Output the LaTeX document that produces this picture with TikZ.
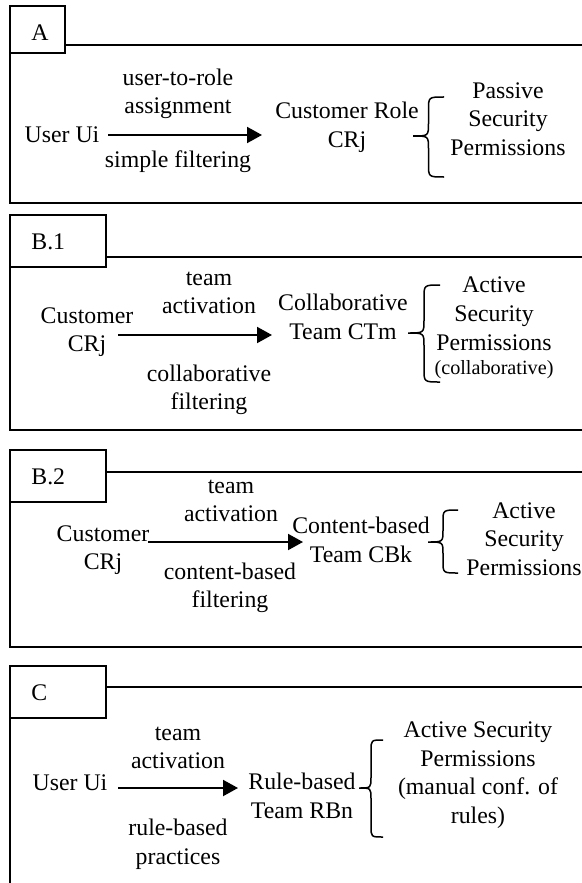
\documentclass[tikz,border=0pt]{standalone}
\usepackage{fontspec}
\setmainfont{Liberation Serif}
\usetikzlibrary{arrows.meta}
\newcommand{\lbrc}[6]{% xl, xr, ytop, ybot, ytip, h
  \draw[brc] (#2,#3) .. controls ({(#1+#2)/2},#3) .. ({(#1+#2)/2},{#3+#6})
    -- ({(#1+#2)/2},{#5-#6}) .. controls ({(#1+#2)/2},#5) .. (#1,#5)
    .. controls ({(#1+#2)/2},#5) .. ({(#1+#2)/2},{#5+#6})
    -- ({(#1+#2)/2},{#4-#6}) .. controls ({(#1+#2)/2},#4) .. (#2,#4);}
\begin{document}
\begin{tikzpicture}[x=0.5pt,y=-0.5pt,
  frame/.style={line width=1pt},
  tabbox/.style={draw, line width=1pt},
  txt/.style={align=center, font=\fontsize{11.9}{14.3}\selectfont, inner sep=0pt},
  arr/.style={line width=1pt, -{Triangle[length=7.5pt,width=8pt]}},
  brc/.style={line width=0.75pt}
]
\fill[white] (0,0) rectangle (582,883);
\useasboundingbox (0,0) rectangle (582,883);

% ---------- Panel A ----------
\draw[tabbox] (10,6) rectangle (65,53);
\draw[frame] (65,45) -- (600,45);
\draw[frame] (10,53) -- (10,203) -- (600,203);
\node[txt, anchor=west] (labA) at (31,33) {A};
\node[txt] (uiA) at (62,135) {User Ui};
\node[txt] (l1A) at (178,94) {user-to-role\\assignment};
\node[txt] (l2A) at (178,162) {simple filtering};
\node[txt] (crA) at (347,127) {Customer Role\\CRj};
\node[txt] (pA) at (508,119) {Passive\\Security\\Permissions};
\coordinate (asA) at (108,135);
\coordinate (aeA) at (262,135);
\draw[arr] (asA) -- (aeA);
\lbrc{413}{444}{97}{177}{136}{13}

% ---------- Panel B.1 ----------
\draw[tabbox] (10,215) rectangle (106,267);
\draw[frame] (106,257) -- (600,257);
\draw[frame] (10,267) -- (10,430) -- (600,430);
\node[txt, anchor=west] (labB1) at (31,242) {B.1};
\node[txt] (cB1) at (87,332) {Customer\\CRj};
\node[txt] (l1B1) at (209,293) {team\\activation};
\node[txt] (l2B1) at (209,390) {collaborative\\filtering};
\node[txt] (tB1) at (343,317) {Collaborative\\Team CTm};
\node[txt] (pB1) at (494,328) {Active\\Security\\Permissions\\[-2pt]{\fontsize{10.1}{12}\selectfont (collaborative)}};
\coordinate (asB1) at (118,335);
\coordinate (aeB1) at (272,335);
\draw[arr] (asB1) -- (aeB1);
\lbrc{408}{440}{285}{382}{333}{13}

% ---------- Panel B.2 ----------
\draw[tabbox] (10,450) rectangle (106,502);
\draw[frame] (106,472) -- (600,472);
\draw[frame] (10,502) -- (10,647) -- (600,647);
\node[txt, anchor=west] (labB2) at (31,477) {B.2};
\node[txt] (cB2) at (103,550) {Customer\\CRj};
\node[txt] (l1B2) at (231,501) {team\\activation};
\node[txt] (l2B2) at (230,588) {content-based\\filtering};
\node[txt] (tB2) at (361,540) {Content-based\\Team CBk};
\node[txt] (pB2) at (524,539) {Active\\Security\\Permissions};
\coordinate (asB2) at (148,542);
\coordinate (aeB2) at (303,542);
\draw[arr] (asB2) -- (aeB2);
\lbrc{428}{458}{510}{573}{542}{12}

% ---------- Panel C ----------
\draw[tabbox] (10,666) rectangle (106,718);
\draw[frame] (106,687) -- (600,687);
\draw[frame] (10,718) -- (10,890);
\node[txt, anchor=west] (labC) at (31,693) {C};
\node[txt] (uiC) at (70,783) {User Ui};
\node[txt] (l1C) at (178,748) {team\\activation};
\node[txt] (l2C) at (178,844) {rule-based\\practices};
\node[txt] (tC) at (302,796) {Rule-based\\Team RBn};
\node[txt] (pC) at (478,775) {Active Security\\Permissions\\(manual conf. of\\rules)};
\coordinate (asC) at (118,788);
\coordinate (aeC) at (238,788);
\draw[arr] (asC) -- (aeC);
\lbrc{359}{383}{740}{837}{788}{11}
\end{tikzpicture}
\end{document}
